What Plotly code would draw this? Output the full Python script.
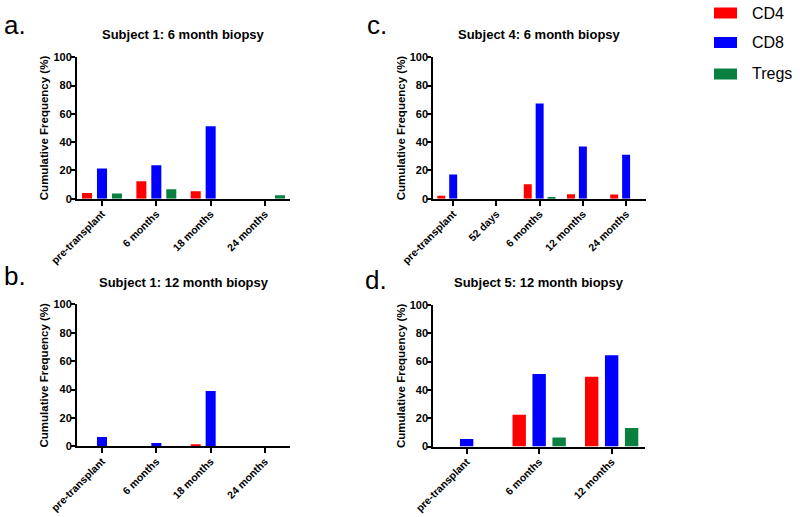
import plotly.graph_objects as go

# ---------------- data ----------------
series_names = ["CD4", "CD8", "Tregs"]
series_colors = ["#ff0000", "#0000ff", "#0a8040"]

# Panel a: Subject 1, 6 month biopsy
a_title = "Subject 1: 6 month biopsy"
a_categories = ["pre-transplant", "6 months", "18 months", "24 months"]
a_cd4 = [4.0, 12.3, 5.2, 0]
a_cd8 = [21.3, 23.6, 51.2, 0]
a_tregs = [3.6, 6.7, 0, 2.4]

# Panel b: Subject 1, 12 month biopsy
b_title = "Subject 1: 12 month biopsy"
b_categories = ["pre-transplant", "6 months", "18 months", "24 months"]
b_cd4 = [0, 0, 1.0, 0]
b_cd8 = [6.5, 2.3, 39.0, 0]
b_tregs = [0, 0, 0, 0]

# Panel c: Subject 4, 6 month biopsy
c_title = "Subject 4: 6 month biopsy"
c_categories = ["pre-transplant", "52 days", "6 months", "12 months", "24 months"]
c_cd4 = [2.0, 0, 10.2, 3.2, 3.0]
c_cd8 = [17.2, 0, 67.3, 37.0, 31.0]
c_tregs = [0, 0, 1.2, 0, 0]

# Panel d: Subject 5, 12 month biopsy
d_title = "Subject 5: 12 month biopsy"
d_categories = ["pre-transplant", "6 months", "12 months"]
d_cd4 = [0, 22.5, 49.3]
d_cd8 = [5.3, 51.3, 64.6]
d_tregs = [0, 6.5, 13.2]

y_tickvals = [0, 20, 40, 60, 80, 100]
y_title = "Cumulative Frequency (%)"
panel_letters = ["a.", "b.", "c.", "d."]

# ---------------- layout geometry (pixels) ----------------
W, H = 800, 517
FONT = "Liberation Sans, Arial, sans-serif"


def px_x(v):
    return v / W


def px_y(v):
    return 1 - v / H


panels = [
    dict(title=a_title, cats=a_categories, vals=[a_cd4, a_cd8, a_tregs],
         x=(77, 290), y=(57.3, 198.7), letter=(15, 25), title_y=34),
    dict(title=b_title, cats=b_categories, vals=[b_cd4, b_cd8, b_tregs],
         x=(77, 290), y=(304.3, 446.3), letter=(15, 276), title_y=282.5),
    dict(title=c_title, cats=c_categories, vals=[c_cd4, c_cd8, c_tregs],
         x=(433.3, 646), y=(57.3, 198.7), letter=(377, 25), title_y=34),
    dict(title=d_title, cats=d_categories, vals=[d_cd4, d_cd8, d_tregs],
         x=(433.3, 645), y=(305, 446.6), letter=(376, 280), title_y=282.5),
]

fig = go.Figure()
annotations = []
layout_axes = {}

for i, p in enumerate(panels):
    n = i + 1
    sfx = "" if n == 1 else str(n)
    xa = "x" + sfx
    ya = "y" + sfx
    for name, color, vals in zip(series_names, series_colors, p["vals"]):
        fig.add_trace(go.Bar(
            x=p["cats"], y=vals, name=name, marker_color=color,
            marker_line_width=0, xaxis=xa, yaxis=ya, showlegend=False,
            offsetgroup=name,
        ))
    ncat = len(p["cats"])
    layout_axes["xaxis" + sfx] = dict(
        domain=[px_x(p["x"][0]), px_x(p["x"][1])],
        anchor=ya, type="category", automargin=False,
        range=[-0.46, ncat - 1 + 0.46],
        showline=True, linecolor="black", linewidth=2,
        ticks="outside", ticklen=5, tickwidth=2, tickcolor="black",
        ticklabelstandoff=-2,
        tickangle=-45, showgrid=False, zeroline=False,
        tickfont=dict(family=FONT, size=10.5, color="black", weight="bold"),
    )
    layout_axes["yaxis" + sfx] = dict(
        domain=[px_y(p["y"][1]), px_y(p["y"][0])],
        anchor=xa, range=[0, 100], tickvals=y_tickvals, automargin=False,
        showline=True, linecolor="black", linewidth=2,
        ticks="outside", ticklen=4, tickwidth=2, tickcolor="black",
        ticklabelstandoff=-3,
        showgrid=False, zeroline=False,
        tickfont=dict(family=FONT, size=11, color="black", weight="bold"),
        title=dict(text=y_title, standoff=2,
                   font=dict(family=FONT, size=11.5, color="black", weight="bold")),
    )
    # panel title
    annotations.append(dict(
        text="<b>" + p["title"] + "</b>", xref="paper", yref="paper",
        x=px_x((p["x"][0] + p["x"][1]) / 2), y=px_y(p["title_y"]),
        xanchor="center", yanchor="middle", showarrow=False,
        font=dict(family=FONT, size=13, color="black"),
    ))
    # panel letter
    annotations.append(dict(
        text=panel_letters[i], xref="paper", yref="paper",
        x=px_x(p["letter"][0]), y=px_y(p["letter"][1]),
        xanchor="center", yanchor="middle", showarrow=False,
        font=dict(family=FONT, size=26, color="black"),
    ))

# manual legend
shapes = []
legend_y = [13, 42.5, 74]
for name, color, ly in zip(series_names, series_colors, legend_y):
    shapes.append(dict(
        type="rect", xref="paper", yref="paper",
        x0=px_x(714), x1=px_x(737), y0=px_y(ly + 5.5), y1=px_y(ly - 5.5),
        fillcolor=color, line=dict(width=0),
    ))
    annotations.append(dict(
        text=name, xref="paper", yref="paper",
        x=px_x(750), y=px_y(ly), xanchor="left", yanchor="middle",
        showarrow=False, font=dict(family=FONT, size=16, color="black"),
    ))

fig.update_layout(
    width=W, height=H,
    margin=dict(l=0, r=0, t=0, b=0, autoexpand=False),
    paper_bgcolor="white", plot_bgcolor="white",
    barmode="group", bargap=0.174, bargroupgap=0.33,
    showlegend=False,
    annotations=annotations, shapes=shapes,
    font=dict(family=FONT, color="black"),
    **layout_axes,
)

fig.write_html(
    "out.html",
    config={"displayModeBar": False},
    post_script="document.body.style.margin='0px';document.body.style.overflow='hidden';",
)
